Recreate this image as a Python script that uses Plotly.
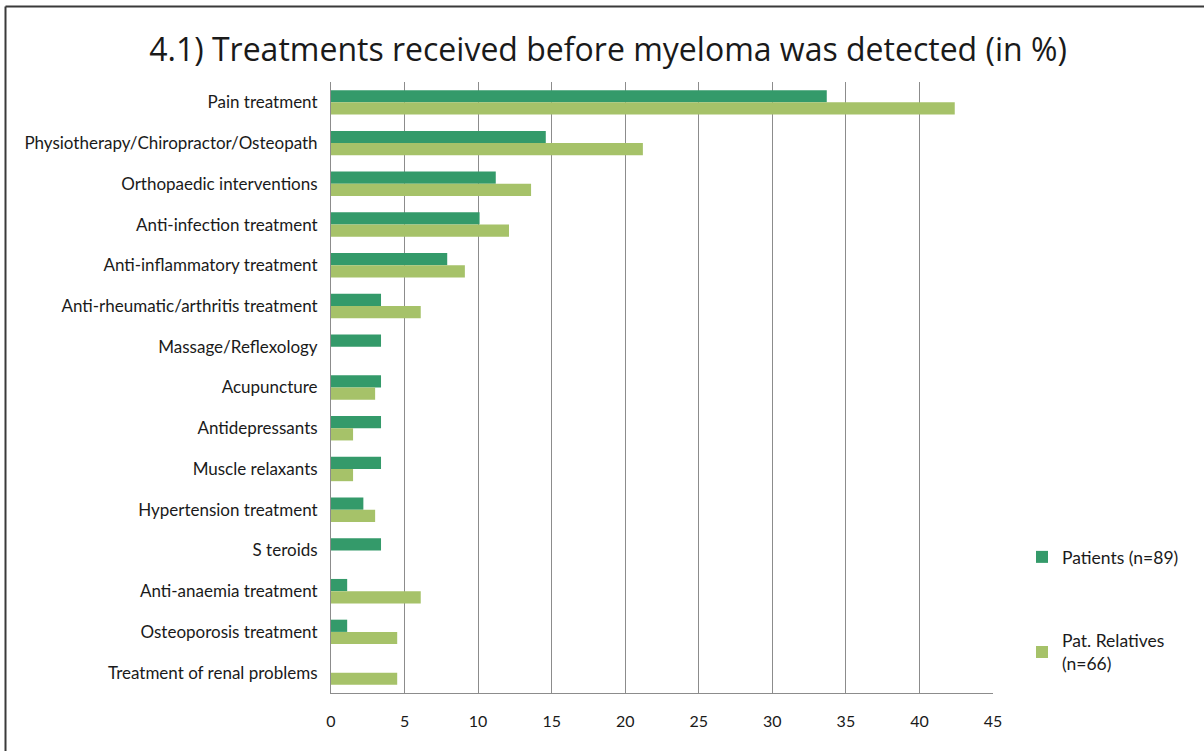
import plotly.graph_objects as go

# Share of respondents reporting each treatment before diagnosis (%)
categories = [
    "Pain treatment",
    "Physiotherapy/Chiropractor/Osteopath",
    "Orthopaedic interventions",
    "Anti-infection treatment",
    "Anti-inflammatory treatment",
    "Anti-rheumatic/arthritis treatment",
    "Massage/Reflexology",
    "Acupuncture",
    "Antidepressants",
    "Muscle relaxants",
    "Hypertension treatment",
    "S teroids",
    "Anti-anaemia treatment",
    "Osteoporosis treatment",
    "Treatment of renal problems",
]
patients = [33.7, 14.6, 11.2, 10.1, 7.9, 3.4, 3.4, 3.4, 3.4, 3.4, 2.2, 3.4, 1.1, 1.1, 0.0]
relatives = [42.4, 21.2, 13.6, 12.1, 9.1, 6.1, 0.0, 3.0, 1.5, 1.5, 3.0, 0.0, 6.1, 4.5, 4.5]
x_ticks = [0, 5, 10, 15, 20, 25, 30, 35, 40, 45]

FONT = "Lato"
DARK = "#349a6a"
LIGHT = "#a6c269"
TEXT = "#1a1a1a"

fig = go.Figure()
fig.add_trace(go.Bar(
    y=categories, x=patients, orientation="h", name="Patients (n=89)",
    marker=dict(color=DARK, line=dict(width=0)), legendgroup="a",
))
fig.add_trace(go.Bar(
    y=categories, x=relatives, orientation="h", name="Pat. Relatives<br>(n=66)",
    marker=dict(color=LIGHT, line=dict(width=0)), legendgroup="b",
))

# plot area in pixels
L, R, T, B = 331, 211, 82, 58
W, H = 1204, 751
pw, ph = W - L - R, H - T - B

def px_x(p):
    return (p - L) / pw

def px_y(p):
    return 1 + (T - p) / ph

fig.update_layout(
    width=W, height=H,
    margin=dict(l=L, r=R, t=T, b=B, pad=0),
    paper_bgcolor="white", plot_bgcolor="white",
    barmode="group", bargap=0.4, bargroupgap=0,
    font=dict(family=FONT, size=17, color=TEXT),
    title=dict(
        text="4.1) Treatments received before myeloma was detected (in %)",
        x=0.505, xref="container", xanchor="center",
        y=1 - 50 / H, yref="container", yanchor="middle",
        font=dict(family="Open Sans", size=32, color=TEXT),
    ),
    showlegend=True,
    legend=dict(
        x=px_x(1022), xanchor="left", y=px_y(539), yanchor="top",
        font=dict(family=FONT, size=17.5, color=TEXT),
        tracegroupgap=58, itemwidth=30, bgcolor="rgba(0,0,0,0)",
    ),
    xaxis=dict(
        range=[0, 45], tickvals=x_ticks, showgrid=True,
        gridcolor="#8c8c8c", gridwidth=1,
        showline=True, linecolor="#8c8c8c", linewidth=1,
        zeroline=False, ticks="", ticklabelstandoff=14,
        tickfont=dict(family=FONT, size=16, color=TEXT),
        fixedrange=True,
    ),
    yaxis=dict(
        autorange="reversed", showgrid=False,
        showline=True, linecolor="#8c8c8c", linewidth=1,
        ticks="", ticklabelstandoff=9,
        tickfont=dict(family=FONT, size=17, color=TEXT),
        fixedrange=True,
    ),
    shapes=[
        dict(type="line", xref="paper", yref="paper",
             x0=px_x(5.5), x1=px_x(1210), y0=px_y(6.5), y1=px_y(6.5),
             line=dict(color="#3a3a3a", width=2)),
        dict(type="line", xref="paper", yref="paper",
             x0=px_x(5.5), x1=px_x(5.5), y0=px_y(6.5), y1=px_y(760),
             line=dict(color="#3a3a3a", width=2)),
    ],
)

fig.write_html("out.html")
